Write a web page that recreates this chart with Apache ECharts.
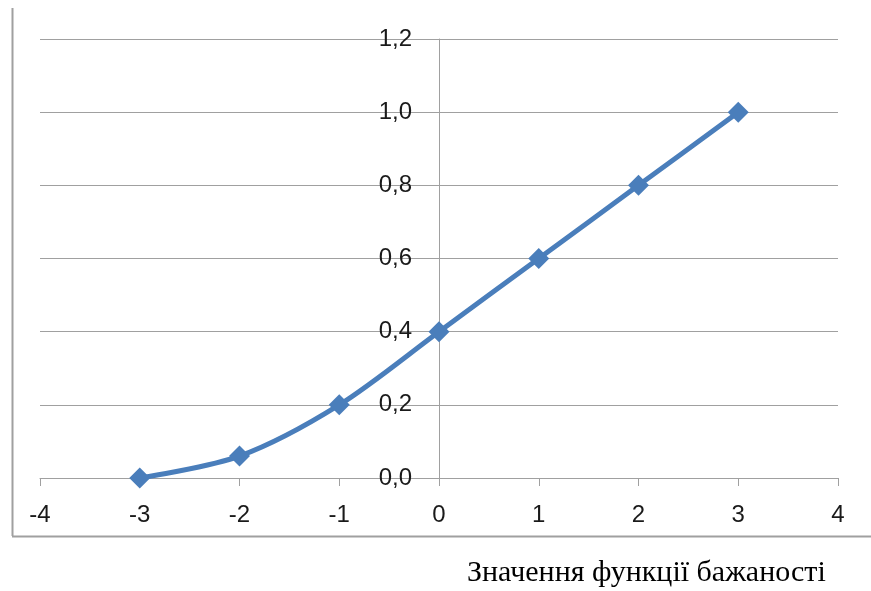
<!DOCTYPE html>
<html><head><meta charset="utf-8">
<script src="https://cdn.jsdelivr.net/npm/echarts@6/dist/echarts.min.js"></script>
<style>html,body{margin:0;padding:0;background:#fff}#c{width:871px;height:591px}</style>
</head><body><div id="c"></div>
<script>
var xValues = [-3, -2, -1, 0, 1, 2, 3];
var yValues = [0, 0.06, 0.2, 0.4, 0.6, 0.8, 1.0];
var xTickLabels = ['-4','-3','-2','-1','0','1','2','3','4'];
var yTickLabels = ['0,0','0,2','0,4','0,6','0,8','1,0','1,2'];
var captionText = 'Значення функції бажаності';

var gridLeft = 40, gridRight = 33, xMin = -4, xMax = 4;
var gridWidth = 871 - gridLeft - gridRight;
var yAxisOffset = -((0 - xMin) / (xMax - xMin)) * gridWidth;

var points = xValues.map(function(x, i){ return [x, yValues[i]]; });
var chart = echarts.init(document.getElementById('c'));
chart.setOption({
  animation: false,
  backgroundColor: '#fff',
  grid: {left: gridLeft, right: gridRight, top: 39, bottom: 113, containLabel: false, outerBoundsMode: 'none'},
  xAxis: {
    type: 'value', min: xMin, max: xMax, interval: 1,
    axisLine: {show: true, onZero: true, lineStyle: {color: '#a0a0a0', width: 1}},
    axisTick: {show: true, length: 8, inside: false, lineStyle: {color: '#a0a0a0'}},
    axisLabel: {margin: 25, fontFamily: 'Liberation Sans', fontSize: 24, color: '#1a1a1a',
      formatter: function(v){ var i = Math.round(v - xMin); return xTickLabels[i] !== undefined ? xTickLabels[i] : ''; }},
    splitLine: {show: false}
  },
  yAxis: {
    type: 'value', min: 0, max: 1.2, interval: 0.2,
    offset: yAxisOffset,
    axisLine: {show: true, onZero: false, lineStyle: {color: '#a0a0a0', width: 1}},
    axisTick: {show: false},
    axisLabel: {margin: 27, fontFamily: 'Liberation Sans', fontSize: 24, color: '#1a1a1a',
      formatter: function(v){ var i = Math.round(v / 0.2); return yTickLabels[i] !== undefined ? yTickLabels[i] : ''; }},
    splitLine: {show: true, lineStyle: {color: '#a0a0a0', width: 1}}
  },
  series: [{
    type: 'line',
    data: points,
    smooth: 0.3,
    symbol: 'diamond',
    symbolSize: 21,
    lineStyle: {color: '#4a7ebb', width: 5},
    itemStyle: {color: '#4a7ebb'}
  }],
  graphic: [
    {type: 'line', shape: {x1: 12.5, y1: 8, x2: 12.5, y2: 536}, style: {stroke: '#a0a0a0', lineWidth: 2}},
    {type: 'line', shape: {x1: 12, y1: 536.5, x2: 871, y2: 536.5}, style: {stroke: '#a0a0a0', lineWidth: 2}},
    {type: 'text', left: 467, top: 558, style: {text: captionText, font: '30px "Liberation Serif"', fill: '#000'}}
  ]
});
</script></body></html>
